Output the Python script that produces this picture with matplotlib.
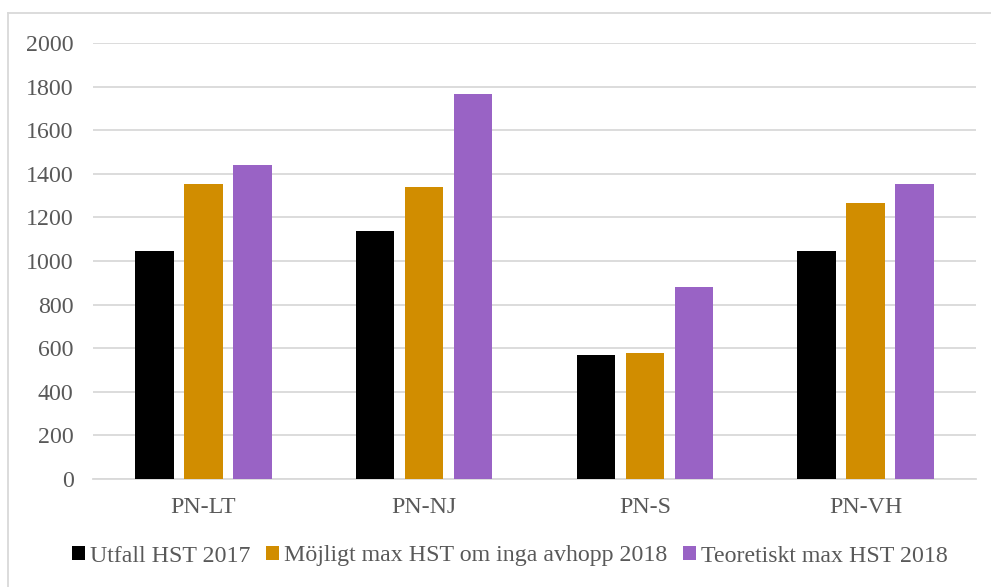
import matplotlib
matplotlib.use("Agg")
import matplotlib.pyplot as plt
import numpy as np

## données
categories = ["PN-LT", "PN-NJ", "PN-S", "PN-VH"]
utfall_2017 = [1048, 1138, 570, 1044]
mojligt_max_2018 = [1353, 1338, 580, 1266]
teoretiskt_max_2018 = [1442, 1765, 879, 1351]
series_names = ["Utfall HST 2017", "Möjligt max HST om inga avhopp 2018", "Teoretiskt max HST 2018"]
colors = ["#000000", "#D18D00", "#9963C5"]

plt.rcParams['font.family'] = ['Liberation Serif', 'DejaVu Serif']
text_col = "#595959"
fs = 17.2

fig = plt.figure(figsize=(9.91, 5.87), dpi=100)
W, H = 991, 587
ax = fig.add_axes([93 / W, 1 - 479 / H, (976 - 93) / W, (479 - 43) / H])

x = np.arange(len(categories))
width = 0.175
step = 0.222
series = [utfall_2017, mojligt_max_2018, teoretiskt_max_2018]
for i, (vals, name, c) in enumerate(zip(series, series_names, colors)):
    ax.bar(x + (i - 1) * step, vals, width, color=c, label=name, zorder=3)

ax.set_xlim(-0.5, len(categories) - 0.5)
ax.set_ylim(0, 2000)
ax.set_yticks(range(0, 2001, 200))
ax.yaxis.grid(True, color="#D9D9D9", linewidth=1.3, zorder=0)
for s in ["top", "right", "left"]:
    ax.spines[s].set_visible(False)
ax.spines["bottom"].set_color("#D9D9D9")
ax.spines["bottom"].set_linewidth(1.3)
ax.set_xticks(x)
ax.set_xticklabels(categories)
ax.tick_params(axis="both", length=0, labelsize=fs, colors=text_col)
ax.tick_params(axis="y", pad=14)
ax.tick_params(axis="x", pad=13)

leg = fig.legend(loc="center", bbox_to_anchor=(510 / W, 1 - 556 / H), ncol=3, frameon=False,
                 fontsize=fs, handlelength=0.55, handleheight=0.55, handletextpad=0.2,
                 columnspacing=0.65, borderaxespad=0)
for t in leg.get_texts():
    t.set_color(text_col)

# cadre gris du graphique
fig.add_artist(plt.Line2D([8 / W, 8 / W], [0, 1 - 13 / H], color="#D9D9D9", linewidth=1.3))
fig.add_artist(plt.Line2D([8 / W, 1], [1 - 13 / H, 1 - 13 / H], color="#D9D9D9", linewidth=1.3))

fig.savefig("out.png", dpi=100)
